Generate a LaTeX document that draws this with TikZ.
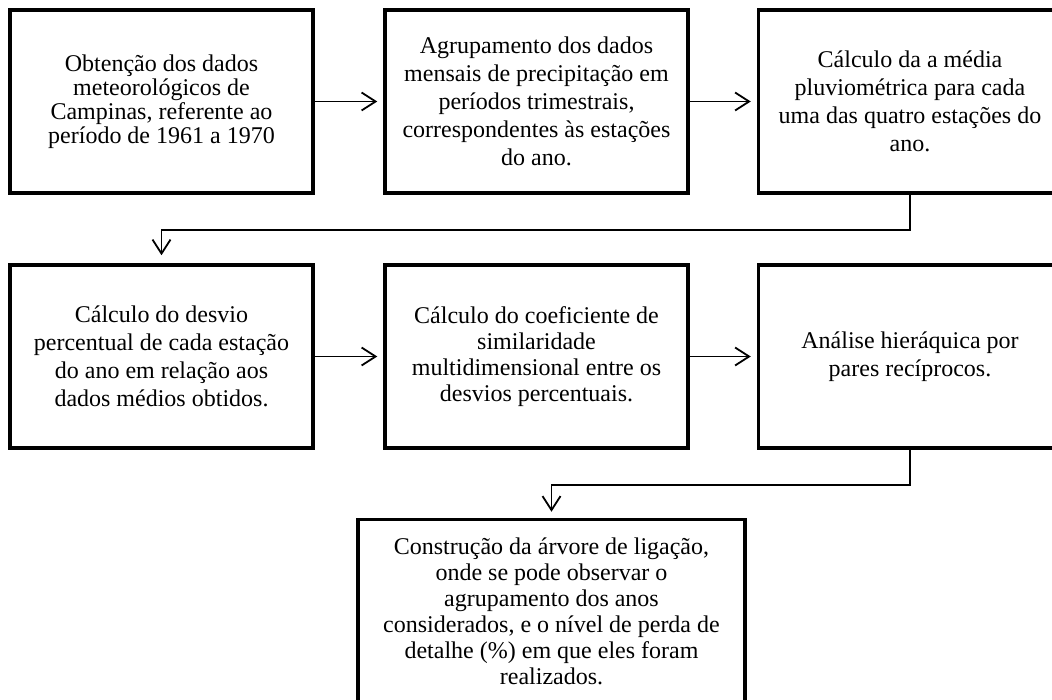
\documentclass[tikz,border=0pt]{standalone}
\usepackage{fontspec}
\setmainfont{Liberation Serif}
\usetikzlibrary{arrows.meta}
\begin{document}
\begin{tikzpicture}[x=1pt,y=-1pt,
  stagebox/.style={draw=black, line width=3.5pt, minimum width=303pt, minimum height=183pt,
    inner sep=0pt, align=center, font=\fontsize{24}{28}\selectfont},
  conn/.style={draw=black, line width=1.6pt, -{Straight Barb[length=14pt,width=18pt,line width=1.8pt]}}
]
\useasboundingbox (0,0) rectangle (1052,700);
\fill[white] (0,0) rectangle (1052,700);
\node[stagebox, font=\fontsize{24}{24}\selectfont] (b1) at (161.5,101.5) {Obtenção dos dados\\meteorológicos de\\Campinas, referente ao\\período de 1961 a 1970};
\node[stagebox] (b2) at (536.5,101.5) {Agrupamento dos dados\\mensais de precipitação em\\períodos trimestrais,\\correspondentes às estações\\do ano.};
\node[stagebox] (b3) at (910,101.5) {Cálculo da a média\\pluviométrica para cada\\uma das quatro estações do\\ano.};
\node[stagebox] (b4) at (161.5,356.5) {Cálculo do desvio\\percentual de cada estação\\do ano em relação aos\\dados médios obtidos.};
\node[stagebox, font=\fontsize{24}{26}\selectfont] (b5) at (536.5,356.5) {Cálculo do coeficiente de\\similaridade\\multidimensional entre os\\desvios percentuais.};
\node[stagebox] (b6) at (910,356.5) {Análise hieráquica por\\pares recíprocos.};
\node[stagebox, minimum width=387pt, font=\fontsize{24}{26}\selectfont] (b7) at (551.5,611) {Construção da árvore de ligação,\\onde se pode observar o\\agrupamento dos anos\\considerados, e o nível de perda de\\detalhe (\%) em que eles foram\\realizados.};
\draw[conn, shorten >=6pt] (b1.east) -- (b2.west);
\draw[conn, shorten >=6pt] (b2.east) -- (b3.west);
\draw[conn, shorten >=6pt] (b4.east) -- (b5.west);
\draw[conn, shorten >=6pt] (b5.east) -- (b6.west);
\draw[conn, shorten >=8pt] (b3.south) -- ++(0,35) -| (b4.north);
\draw[conn, shorten >=6pt] (b6.south) -- ++(0,35) -| (b7.north);
\end{tikzpicture}
\end{document}
